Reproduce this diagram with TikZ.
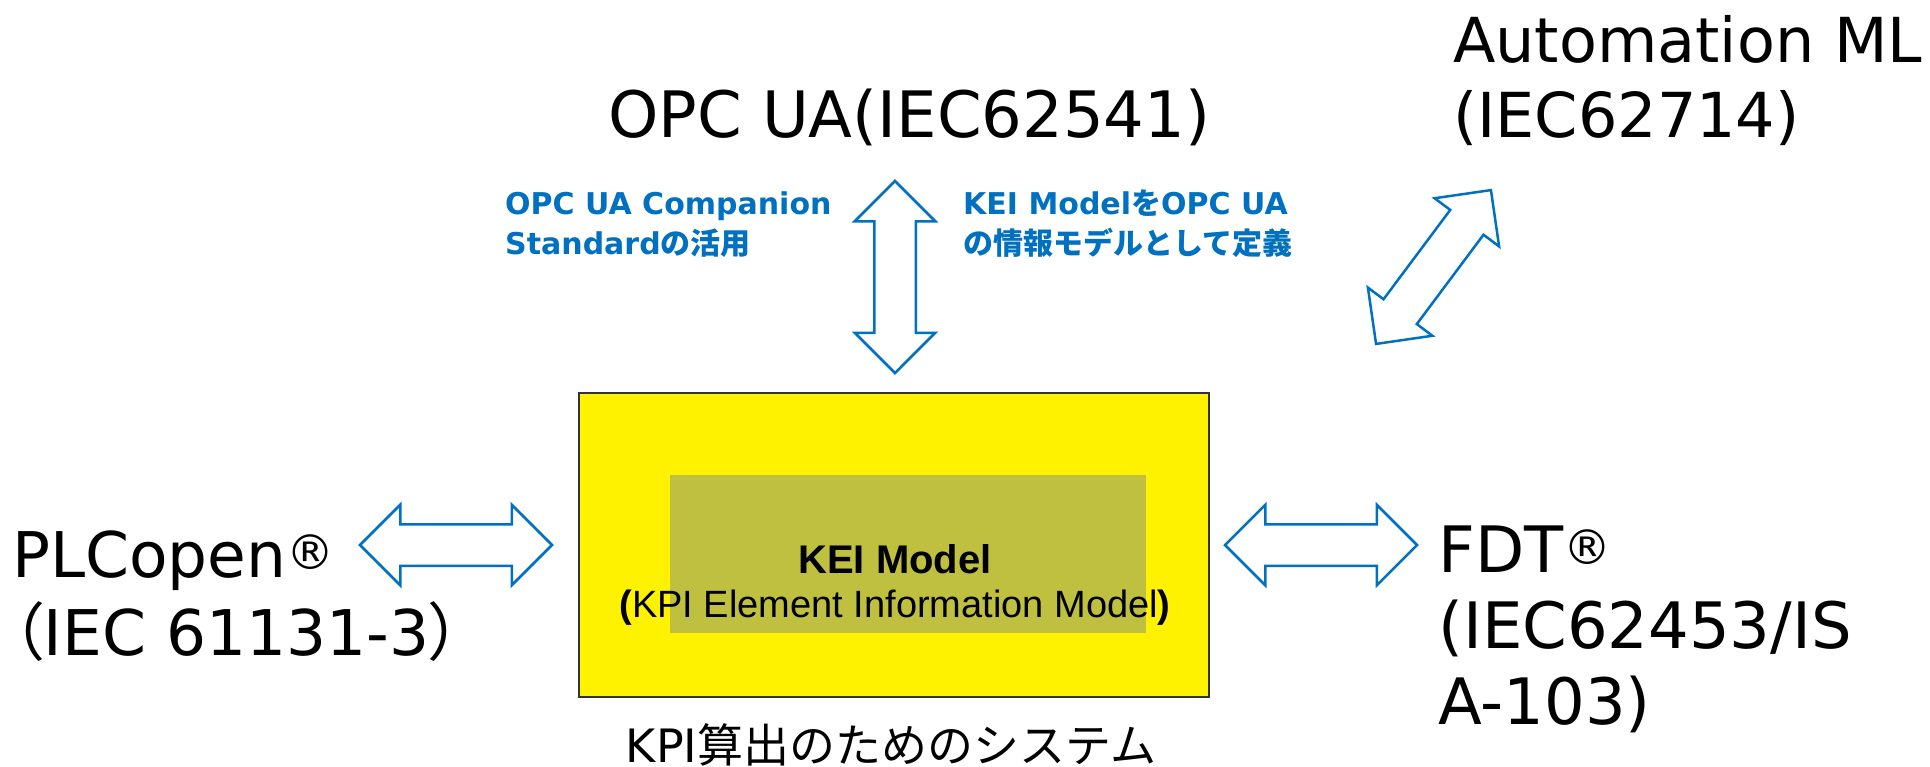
\documentclass[tikz,border=0pt]{standalone}
\usepackage{fontspec}
\setmainfont{DejaVu Sans}
\newfontfamily\jpfont{Noto Sans CJK JP}
\newfontfamily\jppalt[RawFeature=+palt]{Noto Sans CJK JP}
\newfontfamily\arialfont{Liberation Sans}
\definecolor{linkblue}{HTML}{0070C0}
\definecolor{keiolive}{HTML}{BFBF40}
\usetikzlibrary{shapes.arrows}
\newcommand{\regmark}{\raisebox{8pt}{\fontsize{48}{48}\selectfont ®}}

\begin{document}
\begin{tikzpicture}[x=1pt, y=-1pt,
    biglabel/.style={font=\fontsize{60}{76}\selectfont, align=left, inner sep=0pt, anchor=base west},
    notelabel/.style={font=\fontsize{30}{40}\selectfont\bfseries, text=linkblue, align=left, inner sep=0pt, anchor=base west},
    blockarrow/.style={double arrow, draw=linkblue, line width=2.5pt, minimum height=192pt, inner xsep=0pt, inner ysep=19.5pt, double arrow head extend=19.5pt}]
    \useasboundingbox (0,0) rectangle (1930,766);

    % KPI system
    \node[draw=black!80, line width=1.5pt, fill=yellow, minimum width=630pt, minimum height=304pt, inner sep=0pt] (sys) at (894,545) {};
    \node[fill=keiolive, minimum width=476pt, minimum height=158pt, inner sep=0pt] (kei) at (908,554) {};
    \node[font=\arialfont\bfseries\fontsize{40}{44}\selectfont, anchor=base, inner sep=0pt] (keititle) at (895,573) {KEI Model};
    \node[font=\arialfont\fontsize{38}{44}\selectfont, anchor=base, inner sep=0pt] (keifull) at (895,617) {\textbf{(}KPI Element Information Model\textbf{)}};
    \node[font=\fontsize{46}{50}\selectfont, anchor=base, inner sep=0pt] (syscap) at (891,762) {KPI{\jpfont 算出のためのシステム}};

    % Standards (multi-line: base is the last line)
    \node[biglabel, font=\fontsize{64}{76}\selectfont] (opc) at (608,137) {OPC UA(IEC62541)};
    \node[biglabel, font=\fontsize{62}{75}\selectfont] (aml) at (1453,137) {Automation ML\\(IEC62714)};
    \node[biglabel, font=\fontsize{63}{78}\selectfont] (plc) at (12,655) {PLCopen\regmark\\{\jppalt （}IEC 61131-3{\jppalt ）}};
    \node[biglabel, font=\fontsize{64}{76}\selectfont] (fdt) at (1438,724) {FDT\regmark\\(IEC62453/IS\\A-103)};

    % Notes
    \node[notelabel] (companion) at (505,254) {OPC UA Companion\\Standard{\jpfont の活用}};
    \node[notelabel] (infomodel) at (963,254) {KEI Model{\jpfont を}OPC UA\\{\jpfont の情報モデルとして定義}};

    % Block arrows
    \node[blockarrow, rotate=90] (opcarrow) at (895,277) {};
    \node[blockarrow, rotate=53.25] (amlarrow) at (1433.5,267) {};
    \node[blockarrow] (plcarrow) at (456,545) {};
    \node[blockarrow] (fdtarrow) at (1321,545) {};
\end{tikzpicture}
\end{document}
